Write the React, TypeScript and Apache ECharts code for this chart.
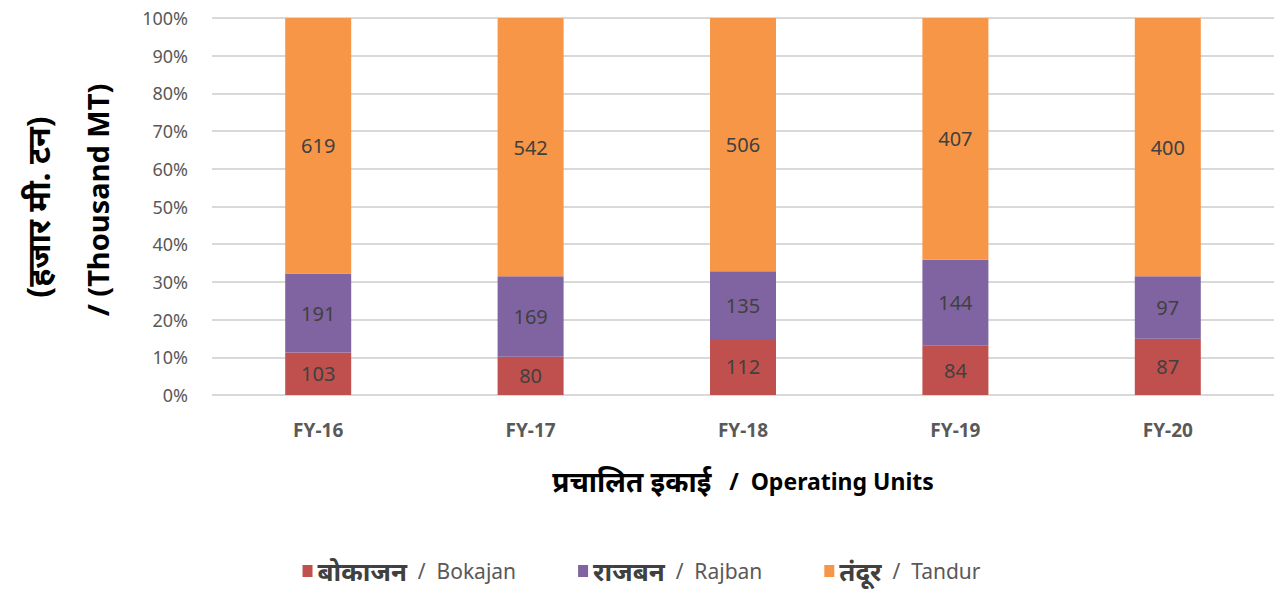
import React, { useEffect, useRef } from "react";
import * as echarts from "echarts";

const categories = ["FY-16", "FY-17", "FY-18", "FY-19", "FY-20"];
const bokajan = [103, 80, 112, 84, 87];
const rajban = [191, 169, 135, 144, 97];
const tandur = [619, 542, 506, 407, 400];
const seriesHindi = ["बोकाजन", "राजबन", "तंदूर"];
const seriesEnglish = ["Bokajan", "Rajban", "Tandur"];
const seriesNames = seriesHindi.map((h, i) => `${h} / ${seriesEnglish[i]}`);
const colors = ["#C0504D", "#8064A2", "#F79646"];

const FONT = "'Noto Sans', 'Open Sans', sans-serif";

export default function App() {
  const ref = useRef<HTMLDivElement>(null);
  useEffect(() => {
    document.body.style.margin = "0";
    const chart = echarts.init(ref.current!, undefined, { renderer: "svg" });
    const raw = [bokajan, rajban, tandur];
    const totals = categories.map((_, i) => raw.reduce((s, arr) => s + arr[i], 0));
    const series = raw.map((arr, k) => ({
      name: seriesNames[k],
      type: "bar",
      stack: "total",
      barWidth: 66,
      itemStyle: { color: colors[k] },
      data: arr.map((v, i) => ({ value: (v / totals[i]) * 100, raw: v })),
      label: {
        show: true,
        position: "inside",
        color: "#404040",
        fontSize: 20,
        fontFamily: FONT,
        formatter: (p: any) => String(p.data.raw),
      },
    }));
    chart.setOption({
      animation: false,
      textStyle: { fontFamily: FONT },
      grid: { left: 212, right: 9, top: 18, bottom: 200, containLabel: false },
      xAxis: {
        type: "category",
        data: categories,
        axisLine: { show: false },
        axisTick: { show: false },
        axisLabel: { color: "#595959", fontSize: 19, fontWeight: "bold", margin: 25, fontFamily: FONT },
        name: "{h|प्रचालित इकाई}   /  {e|Operating Units}",
        nameLocation: "middle",
        nameGap: 72,
        nameTextStyle: {
          color: "#000",
          fontFamily: FONT,
          rich: {
            h: { fontSize: 28, fontWeight: "bold", color: "#000", fontFamily: FONT },
            e: { fontSize: 23, fontWeight: "bold", color: "#000", fontFamily: FONT },
          },
          fontSize: 23,
          fontWeight: "bold",
        },
      },
      yAxis: {
        type: "value",
        min: 0,
        max: 100,
        interval: 10,
        axisLine: { show: false },
        axisTick: { show: false },
        splitLine: { lineStyle: { color: "#D9D9D9", width: 2 } },
        axisLabel: { color: "#595959", fontSize: 18, formatter: "{value}%", margin: 24, fontFamily: FONT },
      },
      legend: {
        bottom: 6,
        left: "center",
        itemWidth: 10,
        itemHeight: 12,
        itemGap: 62,
        icon: "rect",
        formatter: (name: string) => {
          const i = seriesNames.indexOf(name);
          return `{h|${seriesHindi[i]}}  /  {e|${seriesEnglish[i]}}`;
        },
        textStyle: {
          color: "#595959",
          fontSize: 21,
          fontFamily: FONT,
          rich: {
            h: { fontSize: 26, fontWeight: "bold", color: "#404040", fontFamily: FONT },
            e: { fontSize: 21, color: "#595959", fontFamily: FONT },
          },
        },
        data: seriesNames,
      },
      graphic: [
        {
          type: "text",
          x: 37,
          y: 207,
          rotation: Math.PI / 2,
          style: {
            text: "(हजार मी. टन)",
            fontSize: 32,
            fontWeight: "bold",
            fill: "#000",
            fontFamily: FONT,
            align: "center",
            verticalAlign: "middle",
          },
        },
        {
          type: "text",
          x: 97,
          y: 200,
          rotation: Math.PI / 2,
          style: {
            text: "/ (Thousand MT)",
            fontSize: 29,
            fontWeight: "bold",
            fill: "#000",
            fontFamily: FONT,
            align: "center",
            verticalAlign: "middle",
          },
        },
      ],
      series,
    });
    return () => chart.dispose();
  }, []);
  return <div ref={ref} style={{ width: 1283, height: 595 }} />;
}
